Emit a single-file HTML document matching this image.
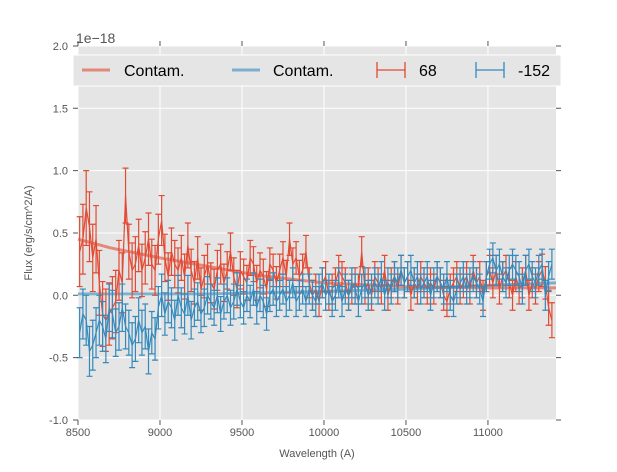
<!DOCTYPE html>
<html><head><meta charset="utf-8"><style>
body{margin:0;background:#fff;font-family:"Liberation Sans",sans-serif}
svg text{font-family:"Liberation Sans",sans-serif}
</style></head><body>
<svg id="c" width="617" height="467" viewBox="0 0 617 467">
<rect x="78" y="46" width="478" height="374" fill="#E5E5E5"/>
<g id="grid"></g><g id="marks"></g><g id="axes"></g>
<text x="76" y="43" font-size="14" fill="#555">1e−18</text>
<text x="317" y="457" font-size="11" fill="#555" text-anchor="middle">Wavelength (A)</text>
<text transform="translate(32,233) rotate(-90)" font-size="11" fill="#555" text-anchor="middle">Flux (erg/s/cm^2/A)</text>
<g>
<rect x="73" y="55" width="488" height="31" fill="#E5E5E5" stroke="#fff"/>
<line x1="82" y1="70" x2="110" y2="70" stroke="#E24A33" stroke-opacity="0.6" stroke-width="3"/>
<text x="124" y="76" font-size="16" fill="#000">Contam.</text>
<line x1="232" y1="70" x2="260" y2="70" stroke="#348ABD" stroke-opacity="0.6" stroke-width="3"/>
<text x="273" y="76" font-size="16" fill="#000">Contam.</text>
<g stroke="#E24A33" stroke-width="1.3"><line x1="377" y1="70" x2="405" y2="70"/><line x1="377" y1="62" x2="377" y2="78"/><line x1="405" y1="62" x2="405" y2="78"/></g>
<text x="419" y="76" font-size="16" fill="#000">68</text>
<g stroke="#348ABD" stroke-width="1.3"><line x1="476" y1="70" x2="504" y2="70"/><line x1="476" y1="62" x2="476" y2="78"/><line x1="504" y1="62" x2="504" y2="78"/></g>
<text x="518" y="76" font-size="16" fill="#000">-152</text>
</g>
</svg>
<script>
const xTicks=[8500,9000,9500,10000,10500,11000];
const yTicks=[-1.0,-0.5,0.0,0.5,1.0,1.5,2.0];
const wlStart=8510, wlStep=20;
const redFlux=[0.35,0.45,0.7,0.55,0.3,0.45,0.1,-0.15,-0.2,-0.15,
-0.1,-0.05,0.2,0.1,0.8,0.35,0.2,0.25,0.4,0.2,
0.3,0.45,0.25,0.2,0.45,0.6,0.3,0.15,0.35,0.25,
0.2,0.3,0.15,0.4,0.2,0.1,0.3,0.05,0.15,0.25,
0.1,0.05,0.2,0.25,0.1,0.2,0.35,0.15,0.05,0.2,
0.15,0.1,0.3,0.25,0.1,0.2,0.15,0.05,0.25,0.2,
0.1,0.2,0.3,0.15,0.45,0.25,0.3,0.15,0.2,0.35,
0.1,0.0,0.05,-0.05,0.1,0.15,0.0,0.05,0.1,0.2,
0.15,0.1,0.0,0.05,0.1,0.05,0.35,0.05,0.1,0.0,
0.15,0.1,0.05,0.2,0.0,0.1,0.15,0.05,0.2,0.1,
0.15,0.0,0.1,0.05,0.15,0.1,0.05,0.1,0.05,0.15,
0.1,0.0,-0.05,0.05,0.1,0.15,0.05,0.1,0.15,0.05,
0.2,0.1,0.15,0.0,0.15,0.2,0.1,0.2,0.05,0.15,
0.2,0.1,0.0,0.15,0.05,0.1,0.2,0.0,0.1,0.05,
0.15,0.2,0.1,-0.1,-0.2];
const redErr=[0.28,0.28,0.3,0.28,0.27,0.27,0.26,0.26,0.25,0.25,
0.25,0.25,0.24,0.24,0.22,0.22,0.22,0.22,0.21,0.21,
0.21,0.21,0.2,0.2,0.2,0.2,0.19,0.19,0.19,0.19,
0.18,0.18,0.18,0.18,0.17,0.17,0.17,0.17,0.17,0.16,
0.16,0.16,0.16,0.16,0.15,0.15,0.15,0.15,0.15,0.15,
0.14,0.14,0.14,0.14,0.14,0.14,0.14,0.14,0.13,0.13,
0.13,0.13,0.13,0.13,0.13,0.13,0.13,0.13,0.13,0.13,
0.12,0.12,0.12,0.12,0.12,0.12,0.12,0.12,0.12,0.12,
0.12,0.12,0.12,0.12,0.12,0.12,0.12,0.12,0.12,0.12,
0.12,0.12,0.12,0.12,0.12,0.12,0.12,0.12,0.12,0.12,
0.12,0.12,0.12,0.12,0.12,0.12,0.12,0.12,0.12,0.12,
0.12,0.12,0.12,0.12,0.12,0.12,0.12,0.12,0.12,0.12,
0.12,0.12,0.12,0.12,0.12,0.12,0.12,0.12,0.12,0.12,
0.12,0.12,0.12,0.12,0.12,0.12,0.12,0.12,0.12,0.12,
0.12,0.13,0.13,0.14,0.14];
const blueFlux=[-0.3,-0.15,-0.2,-0.45,-0.4,-0.3,-0.2,-0.25,-0.35,-0.1,
-0.15,-0.3,-0.25,-0.1,-0.25,-0.3,-0.4,-0.35,-0.2,-0.3,
-0.25,-0.45,-0.3,-0.35,-0.1,0.0,-0.15,-0.05,-0.1,-0.2,
0.0,-0.1,-0.15,0.0,-0.2,-0.1,-0.05,-0.15,-0.1,0.0,
-0.05,-0.1,0.0,-0.15,-0.05,0.0,-0.1,-0.05,0.05,-0.05,
-0.1,0.0,-0.05,0.05,-0.1,0.0,-0.05,-0.15,0.0,0.05,
-0.05,0.0,0.05,-0.05,0.0,0.1,-0.05,0.0,0.05,-0.05,
0.05,0.0,-0.05,0.05,0.1,0.0,0.05,-0.05,0.0,0.1,
-0.05,0.05,0.0,0.1,0.05,-0.05,0.05,0.1,0.0,0.05,
0.1,0.05,0.15,0.0,0.1,0.05,0.15,0.1,0.2,0.1,
0.15,0.2,0.1,0.15,0.05,0.1,0.15,0.0,0.1,0.15,
0.1,0.05,0.15,0.0,-0.05,0.05,0.1,0.15,0.05,0.1,
0.15,0.1,0.05,-0.05,0.15,0.25,0.3,0.2,0.25,0.15,
0.1,0.2,0.25,0.2,0.15,0.05,0.2,0.25,0.15,0.1,
0.2,0.25,0.0,0.15,0.25];
const blueErr=[0.2,0.2,0.2,0.2,0.2,0.2,0.2,0.2,0.19,0.19,
0.19,0.19,0.19,0.19,0.18,0.18,0.18,0.18,0.18,0.18,
0.18,0.18,0.17,0.17,0.17,0.17,0.17,0.17,0.16,0.16,
0.16,0.16,0.16,0.16,0.15,0.15,0.15,0.15,0.15,0.15,
0.14,0.14,0.14,0.14,0.14,0.14,0.14,0.14,0.13,0.13,
0.13,0.13,0.13,0.13,0.13,0.13,0.13,0.13,0.13,0.13,
0.12,0.12,0.12,0.12,0.12,0.12,0.12,0.12,0.12,0.12,
0.12,0.12,0.12,0.12,0.12,0.12,0.12,0.12,0.12,0.12,
0.12,0.12,0.12,0.12,0.12,0.12,0.12,0.12,0.12,0.12,
0.12,0.12,0.12,0.12,0.12,0.12,0.12,0.12,0.12,0.12,
0.12,0.12,0.12,0.12,0.12,0.12,0.12,0.12,0.12,0.12,
0.12,0.12,0.12,0.12,0.12,0.12,0.12,0.12,0.12,0.12,
0.12,0.12,0.12,0.12,0.12,0.12,0.12,0.12,0.12,0.12,
0.12,0.12,0.12,0.12,0.12,0.12,0.12,0.12,0.12,0.12,
0.12,0.12,0.12,0.12,0.12];
const contamWl=[8500,8700,9000,9300,9600,10000,10500,11000,11415];
const redContam=[0.45,0.38,0.3,0.23,0.16,0.1,0.07,0.06,0.06];
const blueContam=[0.01,0.01,0.01,0.01,0.02,0.03,0.05,0.08,0.1];
const NS='http://www.w3.org/2000/svg';
const X=w=>78+(w-8500)*(478/2915);
const Y=v=>295.3-v*124.67;
function mk(t,a,p){const e=document.createElementNS(NS,t);for(const k in a)e.setAttribute(k,a[k]);p.appendChild(e);return e;}
const grid=document.getElementById('grid'),marks=document.getElementById('marks'),axes=document.getElementById('axes');
xTicks.forEach(t=>{const l=mk('line',{x1:X(t),x2:X(t),y1:46,y2:420,stroke:'#fff','stroke-width':1},grid);

mk('path',{d:`M${X(t)},41V46M${X(t)},420V425`,stroke:'#555','stroke-width':1},axes);
const tx=mk('text',{x:X(t),y:436,'font-size':11,fill:'#555','text-anchor':'middle'},axes);tx.textContent=t;
});
yTicks.forEach(t=>{const l=mk('line',{x1:78,x2:556,y1:Y(t),y2:Y(t),stroke:'#fff','stroke-width':1},grid);

mk('path',{d:`M73,${Y(t)}H78M556,${Y(t)}H561`,stroke:'#555','stroke-width':1},axes);
const tx=mk('text',{x:68,y:Y(t)+4,'font-size':11,fill:'#555','text-anchor':'end'},axes);tx.textContent=t.toFixed(1);
});
function contam(vals,col,name){const p=mk('polyline',{points:contamWl.map((w,i)=>X(w)+','+Y(vals[i])).join(' '),fill:'none',stroke:col,'stroke-width':3,'stroke-opacity':0.6},marks);
}
function series(f,e,col,name){const g=mk('g',{stroke:col,'stroke-width':1.2,fill:'none'},marks);

const pts=[];f.forEach((v,i)=>{const w=wlStart+i*wlStep;if(w>11415)return;const x=X(w);pts.push(x+','+Y(v));
const b=mk('path',{d:`M${x},${Y(v-e[i])}V${Y(v+e[i])}M${x-3},${Y(v-e[i])}h6M${x-3},${Y(v+e[i])}h6`},g);
});
const l=mk('polyline',{points:pts.join(' ')},g);}
contam(redContam,'#E24A33','contam-red-line');
contam(blueContam,'#348ABD','contam-blue-line');
series(redFlux,redErr,'#E24A33','series-68');
series(blueFlux,blueErr,'#348ABD','series-152');
</script>
</body></html>
